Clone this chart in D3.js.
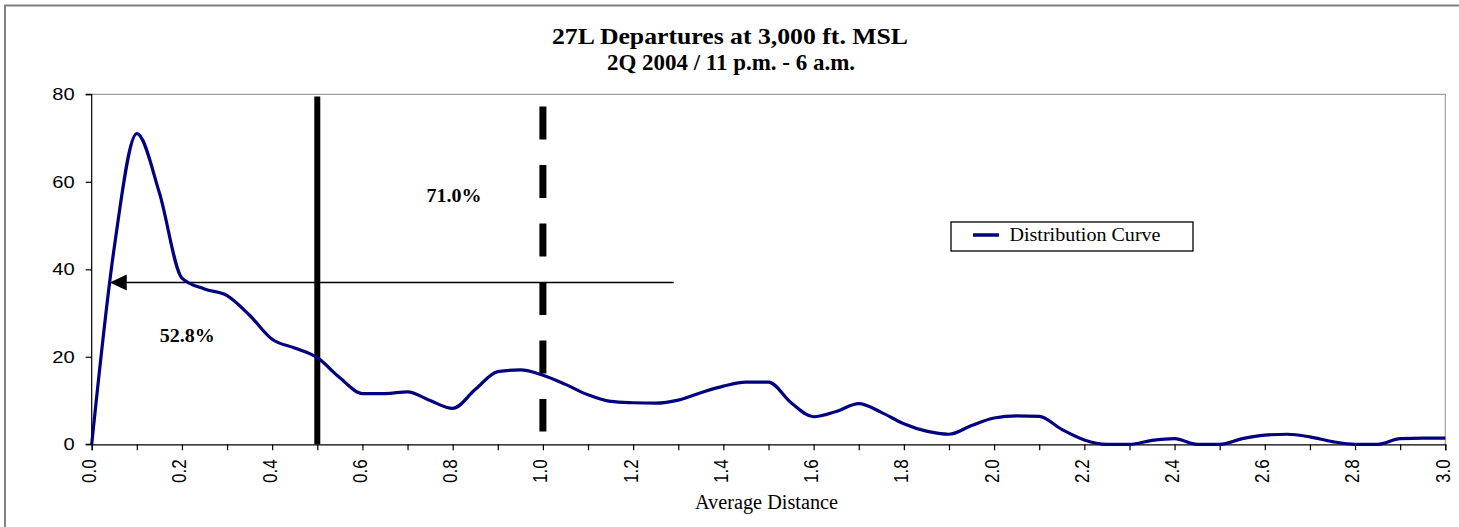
<!DOCTYPE html>
<html><head><meta charset="utf-8">
<script src="https://cdn.jsdelivr.net/npm/d3@7"></script>
<style>
html,body{margin:0;padding:0;background:#fff;}
svg{display:block;}
</style></head>
<body>
<svg id="c" width="1459" height="527"></svg>
<script>
// ---- data ----
const titleLines = ["27L Departures at 3,000 ft. MSL", "2Q 2004 / 11 p.m. - 6 a.m."];
const distance = [0.00,0.05,0.10,0.15,0.20,0.25,0.30,0.35,0.40,0.45,0.50,0.55,0.60,0.65,0.70,0.75,0.80,0.85,0.90,0.95,
  1.00,1.05,1.10,1.15,1.20,1.25,1.30,1.35,1.40,1.45,1.50,1.55,1.60,1.65,1.70,1.75,1.80,1.85,1.90,1.95,
  2.00,2.05,2.10,2.15,2.20,2.25,2.30,2.35,2.40,2.45,2.50,2.55,2.60,2.65,2.70,2.75,2.80,2.85,2.90,2.95,3.00];
const count = [0,45,71,57.5,38,35.5,34,29.5,24,22,19.8,15.2,11.6,11.6,12,10,8.2,12.5,16.6,17,
  15.8,13.7,11.3,9.8,9.5,9.4,10.1,11.8,13.3,14.2,14.2,9.5,6.3,7.5,9.3,7.3,4.7,3,2.3,4.3,
  6.0,6.5,6.4,3.4,1.0,0,0,0.9,1.3,0,0,1.3,2.1,2.3,1.7,0.6,0,0,1.3,1.4,1.4];
const xTickValues = d3.range(0, 31).map(i => i / 10);
const xTickLabels = ["0.0","0.2","0.4","0.6","0.8","1.0","1.2","1.4","1.6","1.8","2.0","2.2","2.4","2.6","2.8","3.0"];
const yTickValues = [0, 20, 40, 60, 80];
const seriesName = "Distribution Curve";
const xAxisTitle = "Average Distance";
// reference lines: x position, top value, bottom value
const refX = [0.5, 1.0];
const refTop = [79.5, 77.2];
const refBottom = [0, 2.9];
// arrow: from x, to x, at value
const arrowFrom = 1.29, arrowTo = 0.04, arrowY = 37;
const annoText = ["71.0%", "52.8%"];
const annoX = [0.803, 0.212];
const annoY = [56.8, 24.8];

// ---- layout ----
const svg = d3.select("#c");
const L = 91.7, R = 1445.3, T = 94.3, B = 444.3;
const x = d3.scaleLinear().domain([0, 3]).range([L, R]);
const y = d3.scaleLinear().domain([0, 80]).range([B, T]);
const serif = "'Liberation Serif','Times New Roman',serif";
const sans = "'Liberation Sans',Arial,sans-serif";
const SX = 1.22; // horizontal stretch of the original rendering

function stretchTo(sel, w) {
  sel.attr("textLength", w).attr("lengthAdjust", "spacingAndGlyphs");
}
function stretchBy(sel, k) {
  sel.each(function () {
    const n = this.getComputedTextLength();
    if (n > 0) d3.select(this).attr("textLength", n * k).attr("lengthAdjust", "spacingAndGlyphs");
  });
}

svg.append("rect").attr("width",1459).attr("height",527).attr("fill","#fff");
// outer frame
svg.append("path").attr("d","M5,527 V5.5 H1459").attr("fill","none").attr("stroke","#808080").attr("stroke-width",2);

// title
stretchTo(svg.append("text").attr("x",730).attr("y",43.5).attr("text-anchor","middle")
  .attr("font-family",serif).attr("font-weight","bold").attr("font-size",23.5).text(titleLines[0]), 356);
stretchTo(svg.append("text").attr("x",731).attr("y",70).attr("text-anchor","middle")
  .attr("font-family",serif).attr("font-weight","bold").attr("font-size",23).text(titleLines[1]), 248);

// plot border top/right
svg.append("path").attr("d",`M${L},${T} H${R} V${B}`).attr("fill","none").attr("stroke","#a0a0a0").attr("stroke-width",1.2);

// axes
const yAxis = d3.axisLeft(y).tickValues(yTickValues).tickSize(6).tickPadding(11);
const gy = svg.append("g").attr("transform",`translate(${L},0)`).call(yAxis);
gy.selectAll("text").attr("font-family",sans).attr("font-size",16.5).attr("fill","#000");
stretchBy(gy.selectAll("text"), SX);
gy.selectAll("line,path").attr("stroke","#000").attr("stroke-width",1.2);
gy.select(".domain").attr("d",`M-6,${T}H0V${B}H-6`);

const xAxis = d3.axisBottom(x).tickValues(xTickValues).tickSize(6)
  .tickFormat((d,i) => i % 2 === 0 ? xTickLabels[i/2] : "");
const gx = svg.append("g").attr("transform",`translate(0,${B})`).call(xAxis);
gx.selectAll("line,path").attr("stroke","#000").attr("stroke-width",1.2);
gx.selectAll("text").attr("font-family",sans).attr("font-size",17).attr("fill","#000")
  .attr("transform","rotate(-90) scale(1,1.15)").attr("text-anchor","end").attr("dy","0.2em")
  .attr("x",-15).attr("y",0);

stretchTo(svg.append("text").attr("x",766.5).attr("y",509).attr("text-anchor","middle")
  .attr("font-family",serif).attr("font-size",20).text(xAxisTitle), 143);

// reference lines
svg.append("line").attr("x1",x(refX[0])).attr("x2",x(refX[0])).attr("y1",y(refTop[0])).attr("y2",y(refBottom[0]))
  .attr("stroke","#000").attr("stroke-width",6);
svg.append("line").attr("x1",x(refX[1])).attr("x2",x(refX[1])).attr("y1",y(refTop[1])).attr("y2",y(refBottom[1]))
  .attr("stroke","#000").attr("stroke-width",7).attr("stroke-dasharray","33 25.5");

// arrow
svg.append("line").attr("x1",x(arrowFrom)).attr("x2",x(arrowTo)+10).attr("y1",y(arrowY)).attr("y2",y(arrowY))
  .attr("stroke","#000").attr("stroke-width",1.5);
const ax = x(arrowTo), ay = y(arrowY);
svg.append("path").attr("d",`M${ax},${ay} L${ax+17},${ay-8} L${ax+17},${ay+8} Z`).attr("fill","#000");

// annotations
annoText.forEach((t,i) => {
  stretchTo(svg.append("text").attr("x",x(annoX[i])).attr("y",y(annoY[i])).attr("text-anchor","middle").attr("dy","0.35em")
    .attr("font-family",serif).attr("font-weight","bold").attr("font-size",18).text(t), 55);
});

// curve
const pts = distance.map((d,i) => [d, count[i]]);
const line = d3.line().x(d => x(d[0])).y(d => y(d[1])).curve(d3.curveMonotoneX);
svg.append("path").attr("d",line(pts)).attr("fill","none").attr("stroke","#000080").attr("stroke-width",3.2)
  .attr("stroke-linejoin","round");

// legend
const lg = svg.append("g");
lg.append("rect").attr("x",951).attr("y",222).attr("width",242).attr("height",29).attr("fill","#fff").attr("stroke","#000").attr("stroke-width",1.3);
lg.append("line").attr("x1",973).attr("x2",999).attr("y1",235).attr("y2",235).attr("stroke","#000080").attr("stroke-width",3.5);
stretchTo(lg.append("text").attr("x",1009.5).attr("y",241).attr("font-family",serif).attr("font-size",18.5).text(seriesName), 151);
</script>
</body></html>
